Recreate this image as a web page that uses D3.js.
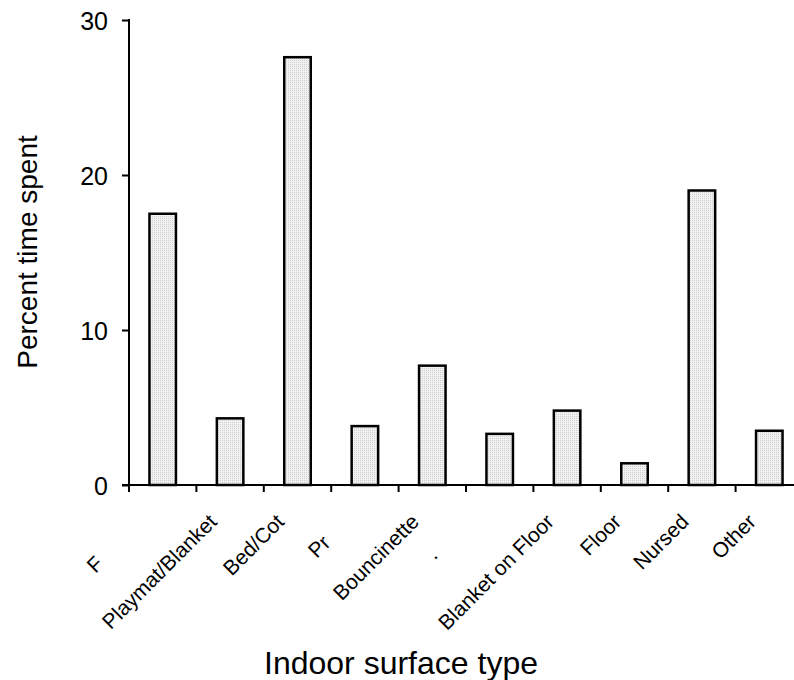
<!DOCTYPE html>
<html>
<head>
<meta charset="utf-8">
<script src="https://cdn.jsdelivr.net/npm/d3@7"></script>
<style>
  html, body { margin: 0; padding: 0; background: #fff; }
  svg { display: block; }
  text { font-family: Arial, "Liberation Sans", Helvetica, sans-serif; fill: #000; }
</style>
</head>
<body>
<svg id="chart" width="794" height="680"></svg>
<script>
// ---- data ----
const categories = ["F", "Playmat/Blanket", "Bed/Cot", "Pr", "Bouncinette", ".", "Blanket on Floor", "Floor", "Nursed", "Other"];
const values = [17.5, 4.3, 27.6, 3.8, 7.7, 3.3, 4.8, 1.4, 19.0, 3.5];
const yTicks = [0, 10, 20, 30];
const yTitle = "Percent time spent";
const xTitle = "Indoor surface type";

// ---- layout / style ----
const svg = d3.select("#chart");
const x0 = 129, y0 = 485, yTop = 20;
const step = 67.4;
const x = d3.scaleBand().domain(d3.range(categories.length)).range([x0, x0 + step * categories.length]).padding(0);
const y = d3.scaleLinear().domain([0, 30]).range([y0, yTop]);
const barW = 26.5;
// truncated label offsets (in rotated text frame)
const truncated = { 0: [-75, -3], 3: [-51, 0], 5: [-64, -11] };

// dotted fill pattern
const defs = svg.append("defs");
const pat = defs.append("pattern").attr("id", "dots").attr("patternUnits", "userSpaceOnUse")
  .attr("width", 2).attr("height", 2);
pat.append("rect").attr("width", 2).attr("height", 2).attr("fill", "#f1f1f1");
pat.append("rect").attr("width", 1).attr("height", 1).attr("fill", "#cfcfcf");

// bars
svg.append("g").selectAll("rect").data(values).join("rect")
  .attr("x", (d, i) => x(i) + x.bandwidth() / 2 - barW / 2)
  .attr("y", d => y(d))
  .attr("width", barW)
  .attr("height", d => y(0) - y(d))
  .attr("fill", "url(#dots)")
  .attr("stroke", "#000")
  .attr("stroke-width", 2.5);

// y axis
const yAxis = d3.axisLeft(y).tickValues(yTicks).tickSize(7).tickPadding(14).tickSizeOuter(0);
const gy = svg.append("g").attr("transform", `translate(${x0},0)`).call(yAxis);
gy.select(".domain").remove();
gy.selectAll(".tick line").attr("stroke", "#000").attr("stroke-width", 2);
gy.selectAll(".tick text").attr("font-size", 25).attr("font-family", "Arial, 'Liberation Sans', sans-serif").attr("dy", "0.36em");
svg.append("line").attr("x1", x0).attr("x2", x0).attr("y1", yTop - 1).attr("y2", y0 + 7)
  .attr("stroke", "#000").attr("stroke-width", 2);

// x axis
svg.append("line").attr("x1", x0 - 7).attr("x2", x0 + step * categories.length).attr("y1", y0).attr("y2", y0)
  .attr("stroke", "#000").attr("stroke-width", 2);
const gx = svg.append("g");
gx.selectAll("line").data(d3.range(categories.length + 1)).join("line")
  .attr("x1", i => x0 + i * x.step()).attr("x2", i => x0 + i * x.step())
  .attr("y1", y0).attr("y2", y0 + 7)
  .attr("stroke", "#000").attr("stroke-width", 2);

// rotated category labels
const lab = svg.append("g").selectAll("g").data(categories).join("g")
  .attr("transform", (d, i) => `translate(${x(i) + x.bandwidth() / 2 - 12},523) rotate(-45)`);
lab.append("text")
  .attr("font-size", 21)
  .attr("text-anchor", (d, i) => truncated[i] ? "start" : "end")
  .attr("x", (d, i) => truncated[i] ? truncated[i][0] : 0)
  .attr("y", (d, i) => truncated[i] ? truncated[i][1] : 0)
  .text(d => d);

// axis titles
svg.append("text").attr("transform", "translate(37,252) rotate(-90)")
  .attr("text-anchor", "middle").attr("font-size", 28).text(yTitle);
svg.append("text").attr("x", 401).attr("y", 674)
  .attr("text-anchor", "middle").attr("font-size", 32).text(xTitle);
</script>
</body>
</html>
